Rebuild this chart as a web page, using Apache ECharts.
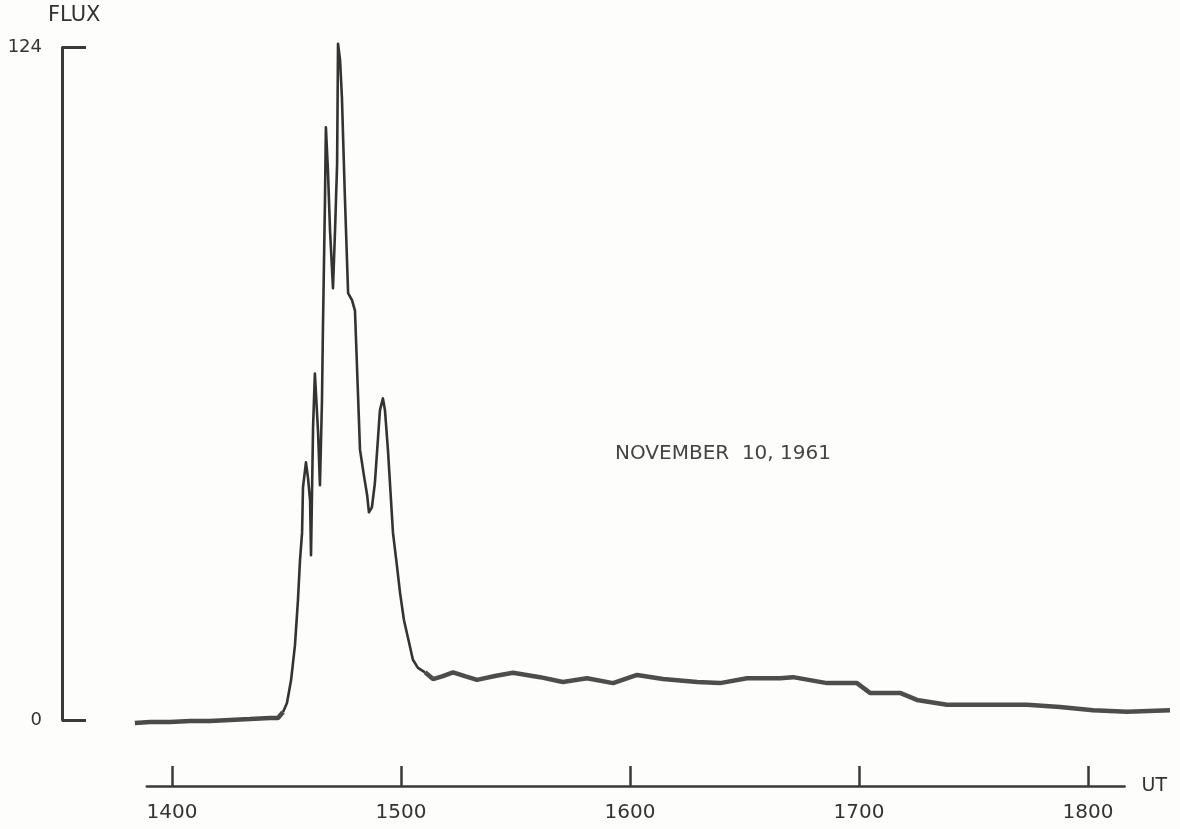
<!DOCTYPE html>
<html>
<head>
<meta charset="utf-8">
<script src="https://cdn.jsdelivr.net/npm/echarts@6/dist/echarts.min.js"></script>
<style>
html,body{margin:0;padding:0;background:#fdfdfb;}
#chart{width:1180px;height:829px;}
</style>
</head>
<body>
<div id="chart"></div>
<script>
// ---- data (UT in decimal hours, flux in arbitrary units) ----
const xTicks = [14, 15, 16, 17, 18];
const yTicks = [0, 124];

const preTime = [13.838, 13.904, 13.991, 14.079, 14.166, 14.253, 14.341, 14.428, 14.463, 14.485];
const preFlux = [-0.55, -0.37, -0.37, -0.18, -0.18, 0.0, 0.18, 0.37, 0.37, 1.47];

const flareTime = [14.485, 14.502, 14.520, 14.537, 14.550, 14.559, 14.568, 14.572, 14.585, 14.594,
  14.603, 14.607, 14.616, 14.624, 14.638, 14.646, 14.655, 14.659, 14.668, 14.672,
  14.681, 14.690, 14.703, 14.712, 14.721, 14.725, 14.734, 14.742, 14.755, 14.769,
  14.786, 14.799, 14.808, 14.821, 14.838, 14.852, 14.860, 14.873, 14.886, 14.908,
  14.921, 14.930, 14.943, 14.965, 14.983, 14.996, 15.013, 15.026, 15.052, 15.074, 15.105];
const flareFlux = [1.47, 3.13, 7.37, 13.8, 22.1, 29.5, 34.5, 42.9, 47.5, 44.6,
  40.5, 30.4, 54.0, 63.9, 52.9, 43.3, 59.0, 71.9, 95.8, 109.3,
  101.3, 90.3, 79.6, 90.3, 102.6, 124.7, 121.6, 114.8, 96.4, 78.7,
  77.4, 75.5, 65.0, 49.8, 45.1, 41.5, 38.3, 39.2, 43.7, 57.1,
  59.3, 57.1, 49.8, 34.5, 28.2, 23.4, 18.4, 16.0, 11.1, 9.6, 8.8];

const postTime = [15.105, 15.140, 15.183, 15.227, 15.279, 15.332, 15.410, 15.489, 15.607, 15.707,
  15.812, 15.926, 16.031, 16.144, 16.293, 16.393, 16.511, 16.655, 16.712, 16.860,
  16.991, 17.048, 17.179, 17.253, 17.384, 17.585, 17.734, 17.878, 18.022, 18.170, 18.358];
const postFlux = [8.8, 7.55, 8.1, 8.8, 8.1, 7.4, 8.1, 8.7, 7.9, 7.0,
  7.7, 6.8, 8.3, 7.55, 7.0, 6.8, 7.7, 7.7, 7.9, 6.8,
  6.8, 5.0, 5.0, 3.7, 2.8, 2.8, 2.8, 2.4, 1.8, 1.5, 1.8];

// ---- layout ----
const PX_PER_HOUR = 229;
const X_AT_14 = 172;
const TOP = 47.5, ZERO_Y = 720;
const dataMin = 13.8, dataMax = 18.4;
const axisMin = 14 - (X_AT_14 - 146.8) / PX_PER_HOUR;
const axisMax = 14 + (1124.6 - X_AT_14) / PX_PER_HOUR;
const toPx = h => X_AT_14 + (h - 14) * PX_PER_HOUR;

const zip = (a, b) => a.map((v, i) => [v, b[i]]);
const ink = '#3a3a3a';
const font = 'DejaVu Sans';

const chart = echarts.init(document.getElementById('chart'));
chart.setOption({
  backgroundColor: '#fdfdfb',
  animation: false,
  grid: [
    { left: 62, top: TOP, width: 1, height: ZERO_Y - TOP },
    { left: toPx(dataMin), width: toPx(dataMax) - toPx(dataMin), top: TOP, height: ZERO_Y - TOP },
    { left: toPx(axisMin), width: toPx(axisMax) - toPx(axisMin), top: 700, height: 86 }
  ],
  xAxis: [
    { gridIndex: 0, type: 'value', show: false },
    { gridIndex: 1, type: 'value', min: dataMin, max: dataMax, show: false },
    { gridIndex: 2, type: 'value', min: axisMin, max: axisMax, position: 'bottom',
      splitLine: { show: false },
      axisLine: { show: true, lineStyle: { color: ink, width: 2.5 } },
      axisTick: { show: true, inside: true, length: 20, customValues: xTicks, lineStyle: { color: ink, width: 2.5 } },
      axisLabel: { show: true, margin: 17, customValues: xTicks, color: '#333', fontFamily: font, fontSize: 20,
        formatter: v => String(Math.round(v * 100)) },
      name: 'UT', nameLocation: 'end', nameGap: 17,
      nameTextStyle: { color: '#333', fontFamily: font, fontSize: 19, verticalAlign: 'middle' }
    }
  ],
  yAxis: [
    { gridIndex: 0, type: 'value', min: 0, max: 124, position: 'left',
      splitLine: { show: false },
      axisLine: { show: true, lineStyle: { color: ink, width: 3 } },
      axisTick: { show: true, inside: true, length: 24, customValues: yTicks, lineStyle: { color: ink, width: 3 } },
      axisLabel: { show: true, margin: 20, customValues: yTicks, color: '#333', fontFamily: font, fontSize: 18 }
    },
    { gridIndex: 1, type: 'value', min: 0, max: 124, show: false },
    { gridIndex: 2, type: 'value', show: false }
  ],
  graphic: [
    { type: 'text', left: 48, top: 5, style: { text: 'FLUX', font: '21px "DejaVu Sans"', fill: '#333' } },
    { type: 'text', left: 615, top: 444, style: { text: 'NOVEMBER  10, 1961', font: '20px "DejaVu Sans"', fill: '#444' } }
  ],
  series: [
    { type: 'line', xAxisIndex: 1, yAxisIndex: 1, data: zip(preTime, preFlux), showSymbol: false, clip: false,
      lineStyle: { color: '#4a4a4a', width: 4.5 } },
    { type: 'line', xAxisIndex: 1, yAxisIndex: 1, data: zip(flareTime, flareFlux), showSymbol: false, clip: false,
      lineStyle: { color: '#333', width: 2.6, join: 'round' } },
    { type: 'line', xAxisIndex: 1, yAxisIndex: 1, data: zip(postTime, postFlux), showSymbol: false, clip: false,
      lineStyle: { color: '#4d4d4d', width: 4.5 } }
  ]
});
</script>
</body>
</html>
